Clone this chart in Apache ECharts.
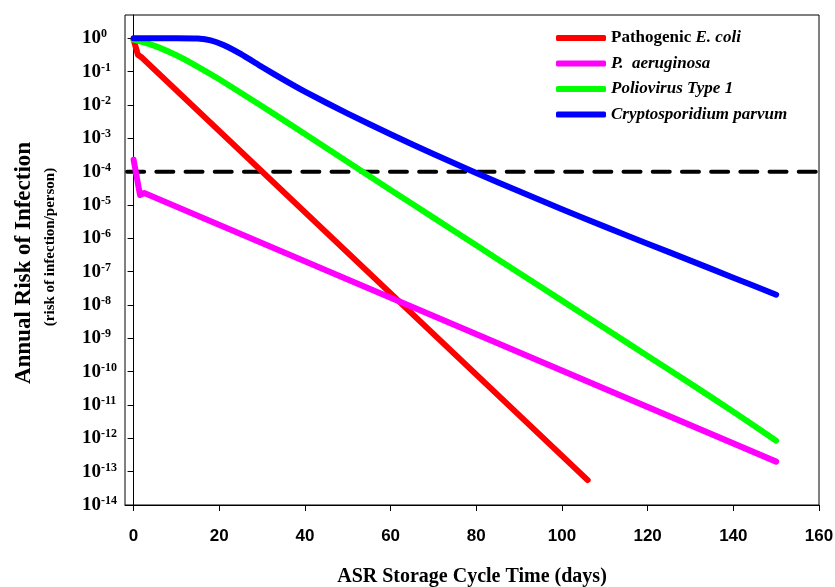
<!DOCTYPE html>
<html>
<head>
<meta charset="utf-8">
<script src="https://cdn.jsdelivr.net/npm/echarts@6/dist/echarts.min.js"></script>
<style>
html,body{margin:0;padding:0;background:#fff;}
#chart{width:835px;height:587px;}
</style>
</head>
<body>
<div id="chart"></div>
<script>
// ---- data (days, annual risk of infection) ----
const ecoliDays = [0, 1, 2, 106];
const ecoliRisk = [0.93, 0.32, 0.26, 5.6e-14];

const paerDays = [0, 1.5, 2.5, 150];
const paerRisk = [2.3e-4, 2.0e-5, 2.3e-5, 2.0e-13];

const polioDays = [0, 3, 6, 10, 14, 20, 30, 40, 50, 60, 70, 80, 90, 100, 110, 120, 130, 140, 150];
const polioRisk = [0.91, 0.716, 0.525, 0.309, 0.166, 0.0589, 9.1e-3, 1.35e-3, 1.95e-4, 2.82e-5, 4.17e-6, 6.17e-7, 9.1e-8, 1.35e-8, 2.0e-9, 2.95e-10, 4.37e-11, 6.3e-12, 8.5e-13];

const cryptoDays = [0, 10, 15, 18, 21, 25, 30, 35, 40, 50, 60, 70, 80, 90, 100, 110, 120, 130, 140, 150];
const cryptoRisk = [1.0, 1.0, 0.98, 0.87, 0.63, 0.34, 0.138, 0.0575, 0.0251, 5.5e-3, 1.32e-3, 3.4e-4, 9.1e-5, 2.57e-5, 7.4e-6, 2.24e-6, 6.9e-7, 2.14e-7, 6.6e-8, 2.04e-8];

const thresholdDays = [-1.5, 160];
const thresholdRisk = [1e-4, 1e-4];

const seriesNames = ['Pathogenic E. coli', 'P.  aeruginosa', 'Poliovirus Type 1', 'Cryptosporidium parvum'];
const seriesColors = ['#ff0000', '#ff00ff', '#00ff00', '#0000ff'];

const xTicks = [0, 20, 40, 60, 80, 100, 120, 140, 160];
const yTicks = [1e-14, 1e-13, 1e-12, 1e-11, 1e-10, 1e-9, 1e-8, 1e-7, 1e-6, 1e-5, 1e-4, 1e-3, 1e-2, 1e-1, 1e0];

const SERIF = "'Liberation Serif','Times New Roman',serif";
const SANS = "'Liberation Sans',Arial,sans-serif";

function pairs(xs, ys) { return xs.map((x, i) => [x, ys[i]]); }

const chart = echarts.init(document.getElementById('chart'));

const series = [{
  type: 'line',
  name: 'threshold',
  data: pairs(thresholdDays, thresholdRisk),
  showSymbol: false,
  symbol: 'none',
  silent: true,
  z: 1,
  lineStyle: { color: '#000', width: 4, type: [17, 12.2], cap: 'round' }
}].concat([
  [ecoliDays, ecoliRisk, false],
  [paerDays, paerRisk, false],
  [polioDays, polioRisk, 0.2],
  [cryptoDays, cryptoRisk, 0.2]
].map((d, i) => ({
  type: 'line',
  name: seriesNames[i],
  data: pairs(d[0], d[1]),
  smooth: d[2],
  showSymbol: false,
  symbol: 'none',
  color: seriesColors[i],
  lineStyle: { width: 6, color: seriesColors[i], cap: 'round', join: 'round' },
  z: 3 + i,
  silent: true
})));

chart.setOption({
  animation: false,
  backgroundColor: '#fff',
  grid: {
    left: 125, top: 15, right: 16, bottom: 82,
    outerBoundsMode: 'none', containLabel: false,
    show: true, borderColor: '#000', borderWidth: 1, backgroundColor: 'transparent'
  },
  legend: {
    left: 551, top: 24, orient: 'vertical', selectedMode: false,
    itemWidth: 50, itemHeight: 6, itemGap: 7.5,
    icon: 'roundRect',
    data: seriesNames,
    textStyle: {
      fontFamily: SERIF, fontWeight: 'bold', fontSize: 17, color: '#000', lineHeight: 18,
      rich: {
        b: { fontFamily: SERIF, fontWeight: 'bold', fontSize: 17, color: '#000' },
        bi: { fontFamily: SERIF, fontWeight: 'bold', fontStyle: 'italic', fontSize: 17, color: '#000' }
      }
    },
    formatter: function (n) {
      if (n === seriesNames[0]) return '{b|Pathogenic }{bi|E. coli}';
      return '{bi|' + n + '}';
    }
  },
  xAxis: {
    type: 'value', min: -2, max: 160,
    name: 'ASR Storage Cycle Time (days)', nameLocation: 'middle', nameGap: 62,
    nameTextStyle: { fontFamily: SERIF, fontWeight: 'bold', fontSize: 20, color: '#000' },
    axisLine: { show: true, lineStyle: { color: '#000', width: 1 } },
    axisTick: { show: true, inside: false, length: 6, customValues: xTicks, lineStyle: { color: '#000', width: 1 } },
    axisLabel: { customValues: xTicks, margin: 23, fontFamily: SANS, fontWeight: 'bold', fontSize: 17, color: '#000' },
    splitLine: { show: false }
  },
  yAxis: {
    type: 'log', logBase: 10, min: 1e-14, max: 5,
    name: '{t|Annual Risk of Infection}\n{s|(risk of infection/person)}',
    nameLocation: 'middle', nameRotate: 90, nameGap: 64,
    nameTextStyle: {
      color: '#000',
      rich: {
        t: { fontFamily: SERIF, fontWeight: 'bold', fontSize: 23, lineHeight: 30, color: '#000', padding: [0, 6, 0, 0] },
        s: { fontFamily: SERIF, fontWeight: 'bold', fontSize: 15, lineHeight: 22, color: '#000', padding: [0, 0, 0, 26] }
      }
    },
    axisLine: { show: true, lineStyle: { color: '#000', width: 1 } },
    axisTick: { show: true, inside: false, length: 6, customValues: yTicks, lineStyle: { color: '#000', width: 1 } },
    axisLabel: {
      customValues: yTicks, align: 'left', margin: 43,
      formatter: function (v) {
        const e = Math.round(Math.log10(v));
        return '{b|10}{s|' + e + '}';
      },
      rich: {
        b: { fontFamily: SERIF, fontWeight: 'bold', fontSize: 19, color: '#000', lineHeight: 20 },
        s: { fontFamily: SERIF, fontWeight: 'bold', fontSize: 12, color: '#000', lineHeight: 12, verticalAlign: 'top' }
      }
    },
    splitLine: { show: false },
    minorSplitLine: { show: false }
  },
  series: series
});
</script>
</body>
</html>
